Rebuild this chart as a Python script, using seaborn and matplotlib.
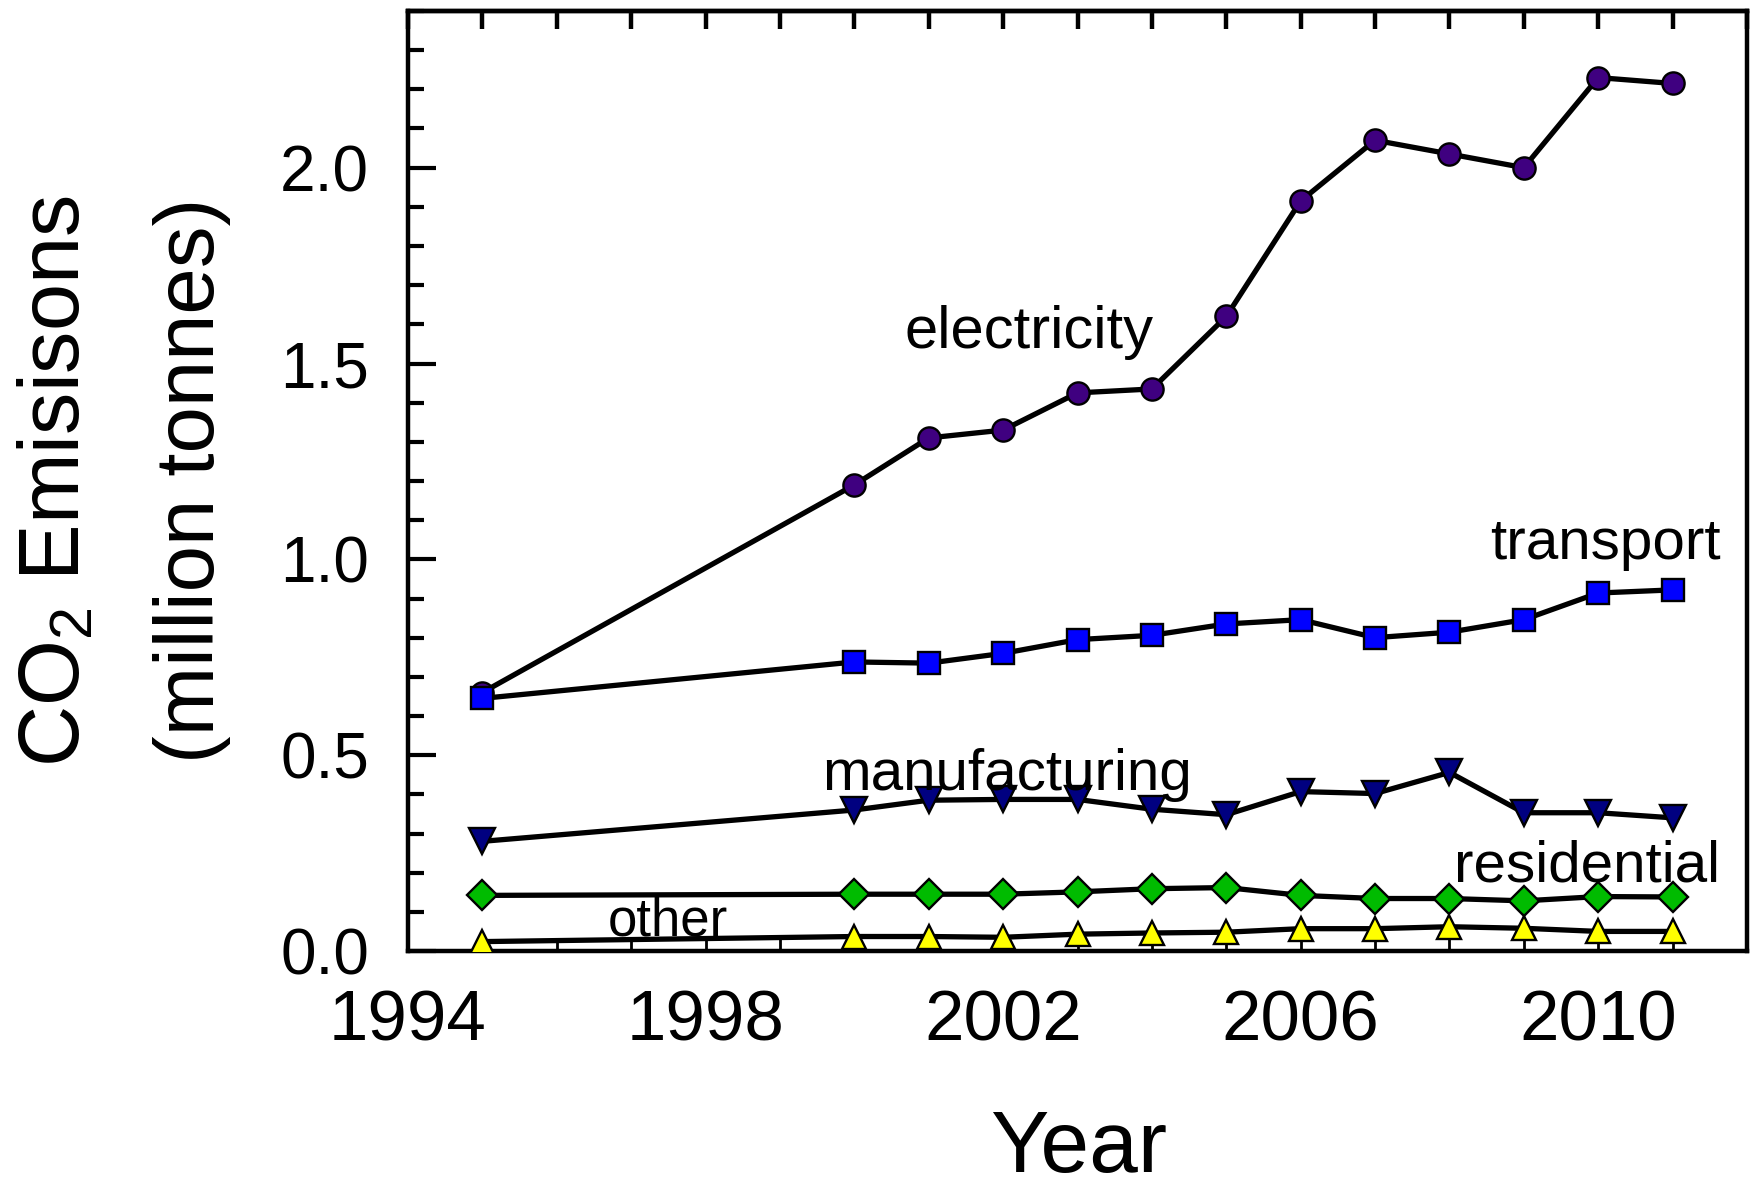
import matplotlib
matplotlib.use("Agg")
import matplotlib.pyplot as plt
import seaborn as sns
import pandas as pd
from matplotlib.ticker import MultipleLocator

# ---- data ----
years = [1995, 2000, 2001, 2002, 2003, 2004, 2005, 2006, 2007, 2008, 2009, 2010, 2011]
electricity = [0.66, 1.19, 1.31, 1.33, 1.425, 1.435, 1.62, 1.915, 2.07, 2.035, 2.0, 2.23, 2.215]
transport = [0.645, 0.738, 0.735, 0.76, 0.795, 0.806, 0.835, 0.846, 0.80, 0.814, 0.846, 0.914, 0.922]
manufacturing = [0.28, 0.36, 0.385, 0.387, 0.387, 0.362, 0.348, 0.407, 0.402, 0.456, 0.353, 0.353, 0.34]
residential = [0.142, 0.145, 0.145, 0.145, 0.151, 0.159, 0.162, 0.142, 0.134, 0.134, 0.128, 0.139, 0.138]
other = [0.024, 0.037, 0.037, 0.035, 0.043, 0.046, 0.048, 0.057, 0.057, 0.062, 0.058, 0.05, 0.05]

series_names = ["electricity", "transport", "manufacturing", "residential", "other"]
series_values = [electricity, transport, manufacturing, residential, other]
series_markers = ["o", "s", "v", "D", "^"]
series_colors = ["#3f0080", "#0000ff", "#000080", "#00bb00", "#ffff00"]
series_msize = [16, 16.5, 19, 15, 17.5]

label_pos = {
    "electricity": (2002.35, 1.54, 43),
    "transport": (2010.1, 1.0, 42),
    "manufacturing": (2002.05, 0.412, 42),
    "residential": (2009.85, 0.178, 42),
    "other": (1997.5, 0.04, 38),
}

x_ticks = [1994, 1998, 2002, 2006, 2010]
y_ticks = [0.0, 0.5, 1.0, 1.5, 2.0]

sns.set_style("ticks")
plt.rcParams["font.family"] = ["Liberation Sans", "DejaVu Sans"]
plt.rcParams["mathtext.fontset"] = "custom"
plt.rcParams["mathtext.rm"] = "Liberation Sans"
plt.rcParams["mathtext.it"] = "Liberation Sans"
plt.rcParams["text.color"] = "black"
plt.rcParams["xtick.color"] = "black"
plt.rcParams["ytick.color"] = "black"
plt.rcParams["xtick.labelcolor"] = "black"
plt.rcParams["ytick.labelcolor"] = "black"
plt.rcParams["axes.labelcolor"] = "black"

fig = plt.figure(figsize=(17.5, 11.91), dpi=100)
ax = fig.add_axes([408 / 1750, 1 - 951 / 1191, (1747 - 408) / 1750, (951 - 11) / 1191])

for name, vals, mk, col, ms in zip(series_names, series_values, series_markers, series_colors, series_msize):
    df = pd.DataFrame({"year": years, "value": vals})
    sns.lineplot(data=df, x="year", y="value", ax=ax, color="black", linewidth=3.8,
                 marker=mk, markersize=ms, markerfacecolor=col, markeredgecolor="black",
                 markeredgewidth=1.7, zorder=3)
    lx, ly, fs = label_pos[name]
    ax.text(lx, ly, name, ha="center", va="baseline", fontsize=fs, color="black", zorder=4)

ax.set_xlim(1994, 2012)
ax.set_ylim(0, 2.4)
ax.set_xticks(x_ticks)
ax.set_xticklabels([str(t) for t in x_ticks])
ax.set_yticks(y_ticks)
ax.set_yticklabels([f"{t:.1f}" for t in y_ticks])
ax.xaxis.set_minor_locator(MultipleLocator(1))
ax.yaxis.set_minor_locator(MultipleLocator(0.1))

for sp in ax.spines.values():
    sp.set_linewidth(3.2)
    sp.set_color("black")

ax.tick_params(axis="y", which="major", direction="in", length=20, width=3, labelsize=46, pad=28,
               left=True, right=False, colors="black")
ax.tick_params(axis="y", which="minor", direction="in", length=11.5, width=3, left=True, right=False,
               colors="black")
ax.tick_params(axis="x", which="both", direction="in", length=9.5, width=2, top=False, bottom=True,
               labelsize=51, pad=28, colors="black")

top = ax.secondary_xaxis("top")
top.set_xticks([])
top.xaxis.set_minor_locator(MultipleLocator(1))
top.tick_params(axis="x", which="minor", direction="in", length=13, width=3.2, colors="black")
top.tick_params(axis="x", which="major", length=0)
top.spines["top"].set_linewidth(3.2)

ax.set_xlabel("")
ax.set_ylabel("")

fig.text(58 / 1750, 1 - 481 / 1191, "CO$_2$ Emisisons", rotation=90, ha="center", va="center", fontsize=61)
fig.text(192 / 1750, 1 - 480 / 1191, "(million tonnes)", rotation=90, ha="center", va="center", fontsize=60)
fig.text(1079 / 1750, 1 - 1172 / 1191, "Year", ha="center", va="baseline", fontsize=63)

fig.savefig("out.png", dpi=100, facecolor="white")
